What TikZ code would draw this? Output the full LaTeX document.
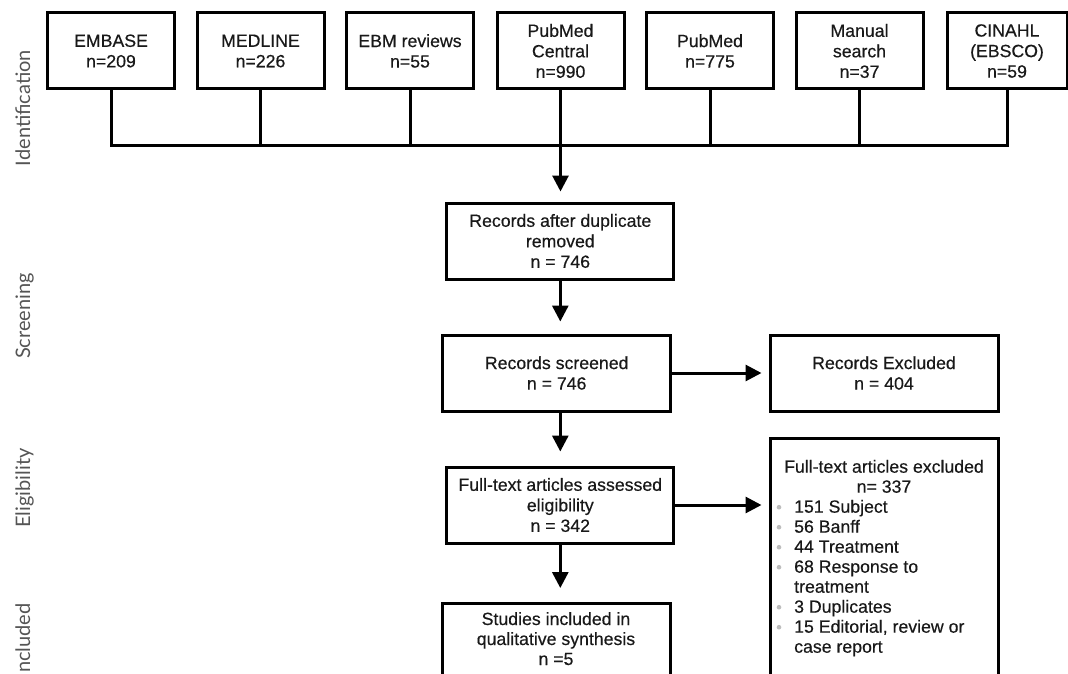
\documentclass[tikz,border=0pt]{standalone}
\usepackage{fontspec}
\setmainfont{Liberation Sans}[FakeBold=0.4]
\newfontfamily\sidefont{Lato}
\usetikzlibrary{arrows.meta,shadows}
\definecolor{sidegray}{RGB}{85,85,85}
\definecolor{dotgray}{RGB}{190,190,190}
\definecolor{txtc}{RGB}{25,25,25}
\begin{document}
\begin{tikzpicture}[x=1pt,y=-1pt,
  box/.style={draw=black, line width=3pt, fill=white, inner sep=0pt, align=center, text=txtc,
     font=\fontsize{17.7}{20.5}\selectfont,
     drop shadow={shadow xshift=1.5pt, shadow yshift=-1.5pt, opacity=0.22}},
  conn/.style={line width=3pt, draw=black},
  arr/.style={conn, -{Triangle[width=16pt,length=16pt]}},
  side/.style={font=\sidefont\fontsize{20}{22}\selectfont, text=sidegray, rotate=90, inner sep=0pt},
  txt/.style={font=\fontsize{17.7}{20}\selectfont, text=txtc, inner sep=0pt}
]
\useasboundingbox (0,0) rectangle (1068,674);
\clip (0,0) rectangle (1068,674);

% side labels
\node[side, anchor=base] (l1) at (30,108) {Identification};
\node[side, anchor=base] (l2) at (30,316) {Screening};
\node[side, anchor=base] (l3) at (30,488) {Eligibility};
\node[side, anchor=base west] (l4) at (30,673) {ncluded};

% identification boxes
\node[box, minimum width=127pt, minimum height=76pt] (emb) at (111,51) {EMBASE\\n=209};
\node[box, minimum width=127pt, minimum height=76pt] (med) at (260.5,51) {MEDLINE\\n=226};
\node[box, minimum width=127pt, minimum height=76pt] (ebm) at (410,51) {EBM reviews\\n=55};
\node[box, minimum width=127pt, minimum height=76pt] (pmc) at (560.5,51) {PubMed\\Central\\n=990};
\node[box, minimum width=127pt, minimum height=76pt] (pub) at (710,51) {PubMed\\n=775};
\node[box, minimum width=127pt, minimum height=76pt] (man) at (859.5,51) {Manual\\search\\n=37};
\node[box, minimum width=120pt, minimum height=76pt] (cin) at (1007,51) {CINAHL\\(EBSCO)\\n=59};

% flow boxes
\node[box, minimum width=227pt, minimum height=76pt] (rad) at (560.3,241) {Records after duplicate\\removed\\n = 746};
\node[box, minimum width=228pt, minimum height=76pt] (rs) at (556.7,373) {Records screened\\n = 746};
\node[box, minimum width=228pt, minimum height=76pt] (re) at (884,373) {Records Excluded\\n = 404};
\node[box, minimum width=227pt, minimum height=76pt] (fta) at (560.3,505) {Full-text articles assessed\\eligibility\\n = 342};
\node[box, minimum width=228pt, minimum height=120pt, anchor=north] (sib) at (556,602) {};
\node[txt, anchor=base] (sibt) at (556,625) {\begin{tabular}[t]{@{}c@{}}Studies included in\\qualitative synthesis\\n =5\end{tabular}};
\node[box, minimum width=228pt, minimum height=280pt, anchor=north] (ftex) at (884,437) {};
\node[txt, anchor=base] (ftexh) at (884,472.7) {\begin{tabular}[t]{@{}c@{}}Full-text articles excluded\\n= 337\end{tabular}};
\node[txt, anchor=base west] (ftexl) at (794,512.7) {\begin{tabular}[t]{@{}l@{}}151 Subject\\56 Banff\\44 Treatment\\68 Response to\\treatment\\3 Duplicates\\15 Editorial, review or\\case report\end{tabular}};
\foreach \yy in {512.7,532.7,552.7,572.7,612.7,632.7}
  \fill[dotgray] (779,\yy-5.5) circle (2.3pt);

% connectors
\coordinate (bus) at (560,146);
\draw[conn] (emb.south) -- (emb.south |- bus) -- (cin.south |- bus) -- (cin.south);
\foreach \n in {med,ebm,pub,man}
  \draw[conn] (\n.south) -- (\n.south |- bus);
\draw[arr, shorten >=10pt] (pmc.south) -- (pmc.south |- rad.north);
\draw[arr, shorten >=12pt] (rad.south) -- (rad.south |- rs.north);
\draw[arr, shorten >=14pt] (rad.south |- rs.south) -- (rad.south |- fta.north);
\draw[arr, shorten >=14pt] (fta.south) -- (fta.south |- sib.north);
\draw[arr, shorten >=7pt] (rs.east) -- (re.west);
\draw[arr, shorten >=7pt] (fta.east) -- (fta.east -| ftex.west);
\end{tikzpicture}
\end{document}
